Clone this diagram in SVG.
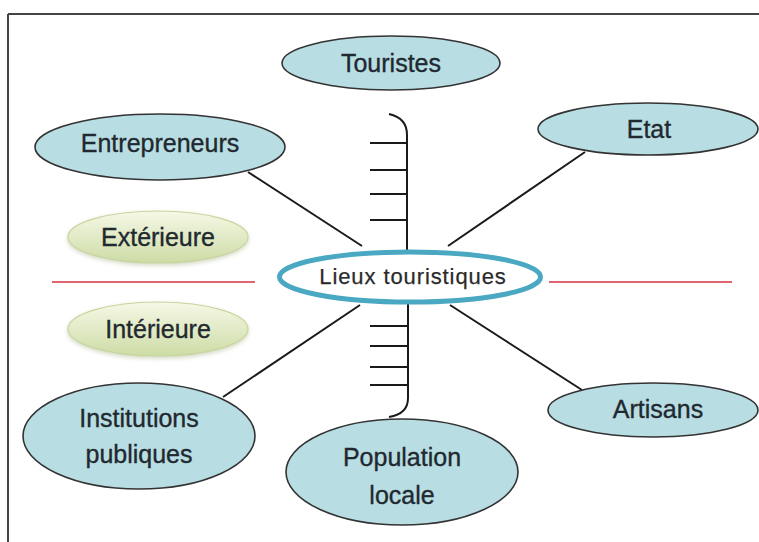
<svg xmlns="http://www.w3.org/2000/svg" width="759" height="542" viewBox="0 0 759 542">
<defs>
<linearGradient id="green" x1="0" y1="0" x2="0" y2="1">
<stop offset="0" stop-color="#f6f8e6"/>
<stop offset="1" stop-color="#cddca6"/>
</linearGradient>
<filter id="soft" x="-10%" y="-20%" width="120%" height="150%">
<feGaussianBlur in="SourceAlpha" stdDeviation="2"/>
<feOffset dy="2" result="b"/>
<feFlood flood-color="#a9b48a" flood-opacity="0.5"/>
<feComposite in2="b" operator="in"/>
<feMerge><feMergeNode/><feMergeNode in="SourceGraphic"/></feMerge>
</filter>
</defs>
<style>
.node{fill:#b8dde3;stroke:#333;stroke-width:1.6}
.side{fill:url(#green);stroke:#c9d59e;stroke-width:1.2}
.lbl{font-family:"Liberation Sans",Arial,sans-serif;font-size:25px;fill:#1f292f;stroke:#1f292f;stroke-width:0.35;text-anchor:middle}
.conn{stroke:#1a1a1a;stroke-width:2;fill:none}
.red{stroke:#d9333f;stroke-width:1.6}
</style>
<rect width="759" height="542" fill="#fff"/>
<g id="frame" fill="none" stroke="#444" stroke-width="2">
<line x1="8" y1="14" x2="759" y2="14"/>
<line x1="8" y1="14" x2="8" y2="542"/>
</g>
<g id="dividers">
<line class="red" x1="52" y1="282" x2="255" y2="282"/>
<line class="red" x1="549" y1="282" x2="732" y2="282"/>
</g>
<g id="connectors">
<line class="conn" x1="248" y1="172" x2="362" y2="246"/>
<line class="conn" x1="585" y1="152" x2="448" y2="246"/>
<line class="conn" x1="223" y1="397" x2="360" y2="305"/>
<line class="conn" x1="450" y1="305" x2="582" y2="390"/>
<path class="conn" d="M389 114 Q407 118 407 135 L407 250"/>
<path class="conn" d="M408 300 L408 398 Q408 414 389 417"/>
<line class="conn" x1="370" y1="143" x2="407" y2="143"/>
<line class="conn" x1="370" y1="170" x2="407" y2="170"/>
<line class="conn" x1="370" y1="194" x2="407" y2="194"/>
<line class="conn" x1="370" y1="220" x2="407" y2="220"/>
<line class="conn" x1="370" y1="326" x2="408" y2="326"/>
<line class="conn" x1="370" y1="346" x2="408" y2="346"/>
<line class="conn" x1="370" y1="367" x2="408" y2="367"/>
<line class="conn" x1="370" y1="385" x2="408" y2="385"/>
</g>
<g id="touristes">
<ellipse class="node" cx="391" cy="63" rx="109" ry="27"/>
<text class="lbl" x="391" y="72">Touristes</text>
</g>
<g id="entrepreneurs">
<ellipse class="node" cx="160" cy="147" rx="125" ry="33"/>
<text class="lbl" x="160" y="152">Entrepreneurs</text>
</g>
<g id="etat">
<ellipse class="node" cx="648" cy="129" rx="110" ry="26"/>
<text class="lbl" x="649" y="138">Etat</text>
</g>
<g id="exterieure">
<ellipse class="side" filter="url(#soft)" cx="158" cy="237" rx="90" ry="26"/>
<text class="lbl" x="158" y="246">Extérieure</text>
</g>
<g id="interieure">
<ellipse class="side" filter="url(#soft)" cx="158" cy="329" rx="90" ry="27"/>
<text class="lbl" x="158" y="338">Intérieure</text>
</g>
<g id="lieux">
<ellipse cx="410" cy="277" rx="130.5" ry="25" fill="#fff" stroke="#4aa8c2" stroke-width="5"/>
<text x="413" y="284" font-family="'Liberation Sans',Arial,sans-serif" font-size="22" letter-spacing="0.9" fill="#2b2b2b" stroke="#2b2b2b" stroke-width="0.25" text-anchor="middle">Lieux touristiques</text>
</g>
<g id="institutions">
<ellipse class="node" cx="139" cy="436" rx="116" ry="53"/>
<text class="lbl" x="139" y="427">Institutions</text>
<text class="lbl" x="139" y="463">publiques</text>
</g>
<g id="population">
<ellipse class="node" cx="402" cy="472" rx="116" ry="53"/>
<text class="lbl" x="402" y="466">Population</text>
<text class="lbl" x="402" y="504">locale</text>
</g>
<g id="artisans">
<ellipse class="node" cx="653" cy="410" rx="105" ry="27"/>
<text class="lbl" x="658" y="418">Artisans</text>
</g>
</svg>
